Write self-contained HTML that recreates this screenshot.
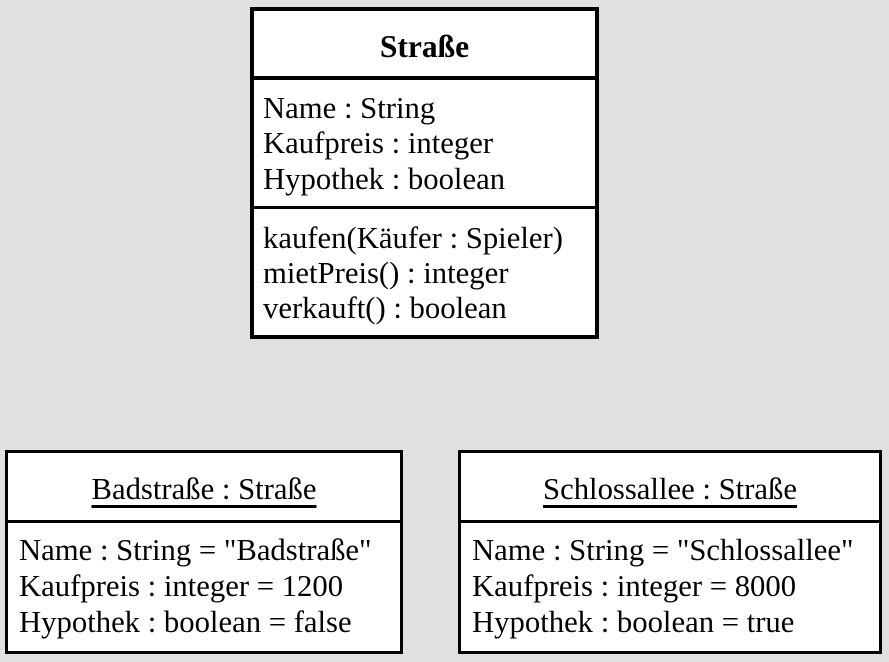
<!DOCTYPE html>
<html><head><meta charset="utf-8"><style>
body{margin:0;width:889px;height:662px;background:#e0e0e0;position:relative;overflow:hidden;font-family:"Liberation Serif",serif;color:#000}
.box{position:absolute;background:#fff;border:3px solid #000;box-sizing:border-box}
.div{position:absolute;left:0;right:0;height:3px;background:#000}
.t{position:absolute;font-size:30.7px;line-height:36px;white-space:nowrap}
.c{left:0;right:0;text-align:center}
u{text-decoration-thickness:3px;text-underline-offset:6px}
</style></head><body>
<div class="box" style="left:250px;top:7px;width:349px;height:332px;border-width:4px">
  <div class="t c" style="top:18px;font-weight:bold;font-size:31.5px">Straße</div>
  <div class="div" style="top:65px;height:4px"></div>
  <div class="t" style="left:9px;top:79px">Name : String</div>
  <div class="t" style="left:9px;top:114px">Kaufpreis : integer</div>
  <div class="t" style="left:9px;top:150px">Hypothek : boolean</div>
  <div class="div" style="top:195px"></div>
  <div class="t" style="left:9px;top:209px">kaufen(Käufer : Spieler)</div>
  <div class="t" style="left:9px;top:244px">mietPreis() : integer</div>
  <div class="t" style="left:9px;top:279px">verkauft() : boolean</div>
</div>
<div class="box" style="left:5px;top:450px;width:398px;height:204px">
  <div class="t c" style="top:18px"><u>Badstraße : Straße</u></div>
  <div class="div" style="top:67px"></div>
  <div class="t" style="left:11px;top:79px">Name : String = "Badstraße"</div>
  <div class="t" style="left:11px;top:115px">Kaufpreis : integer = 1200</div>
  <div class="t" style="left:11px;top:151px">Hypothek : boolean = false</div>
</div>
<div class="box" style="left:458px;top:450px;width:424px;height:204px">
  <div class="t c" style="top:18px"><u>Schlossallee : Straße</u></div>
  <div class="div" style="top:67px"></div>
  <div class="t" style="left:11px;top:79px">Name : String = "Schlossallee"</div>
  <div class="t" style="left:11px;top:115px">Kaufpreis : integer = 8000</div>
  <div class="t" style="left:11px;top:151px">Hypothek : boolean = true</div>
</div>
</body></html>
